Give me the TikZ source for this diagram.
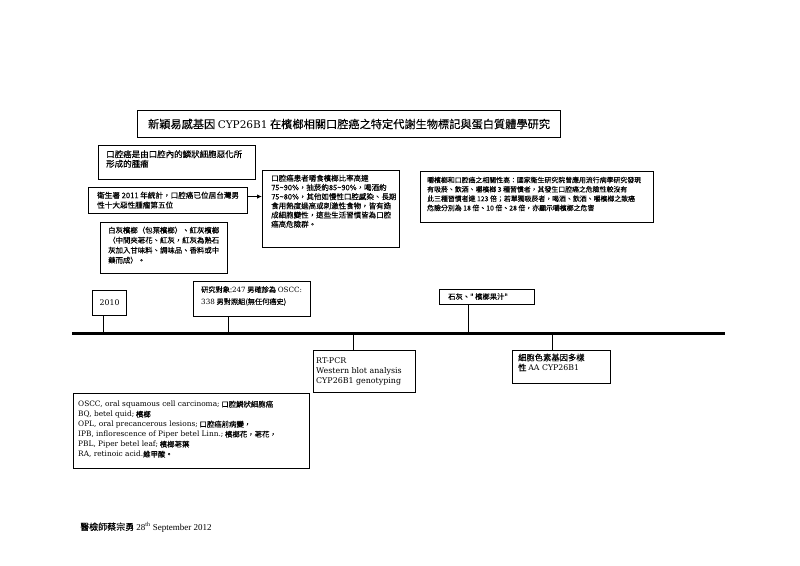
\documentclass[tikz,border=0pt]{standalone}
\usepackage{fontspec}
\setmainfont{Liberation Serif}
\newfontfamily\cjk[FakeBold=0.12]{Noto Sans CJK TC}
\newfontfamily\lat{DejaVu Serif}
\usetikzlibrary{arrows.meta}
\begin{document}
\begin{tikzpicture}[x=1pt,y=-1pt,
  frame/.style={draw, line width=1.1pt, anchor=north west, inner sep=0pt},
  txt/.style={anchor=north west, inner sep=0pt, align=left},
  conn/.style={draw, line width=1.1pt}]
\useasboundingbox (0,0) rectangle (800,565);
% title
\node[frame, minimum width=423pt, minimum height=27pt, font=\cjk\fontsize{11.2}{13}\selectfont] (title) at (137,110) {新穎易感基因 {\lat\fontsize{10.5}{13}\selectfont CYP26B1} 在檳榔相關口腔癌之特定代謝生物標記與蛋白質體學研究};
% box 1
\node[frame, minimum width=157pt, minimum height=34pt] (f1) at (98,145) {};
\node[txt, font=\cjk\fontsize{8.5}{9.6}\selectfont] (t1) at (106,150) {口腔癌是由口腔內的鱗狀細胞惡化所\\形成的腫瘤};
% box 2
\node[frame, minimum width=159pt, minimum height=26pt] (f2) at (88,187) {};
\node[txt, font=\cjk\fontsize{7.6}{9.8}\selectfont] (t2) at (97,191.5) {衛生署 2011 年統計，口腔癌已位居台灣男\\性十大惡性腫瘤第五位};
% box 3
\node[frame, minimum width=127pt, minimum height=51pt] (f3) at (100,222) {};
\node[txt, font=\cjk\fontsize{7.4}{10}\selectfont] (t3) at (108,226.5) {白灰檳榔（包葉檳榔）、紅灰檳榔\\（中間夾荖花、紅灰，紅灰為熟石\\灰加入甘味料、調味品、香料或中\\藥而成）。};
% box 4
\node[frame, minimum width=137pt, minimum height=77pt] (f4) at (262,170) {};
\node[txt, font=\cjk\fontsize{7.5}{9.2}\selectfont] (t4) at (271,174.5) {口腔癌患者嚼食檳榔比率高達\\75\char`\~90\%，抽菸約85\char`\~90\%，喝酒約\\75\char`\~80\%，其他如慢性口腔感染、長期\\食用熱度過高或刺激性食物，皆有造\\成細胞變性，這些生活習慣皆為口腔\\癌高危險群。};
% box 5
\node[frame, minimum width=233pt, minimum height=51pt] (f5) at (420,171) {};
\node[txt, font=\cjk\fontsize{6.9}{9.3}\selectfont] (t5) at (427,176.5) {嚼檳榔和口腔癌之相關性高：國家衛生研究院曾應用流行病學研究發現\\有吸菸、飲酒、嚼檳榔 3 種習慣者，其發生口腔癌之危險性較沒有\\此三種習慣者達 123 倍；若單獨吸菸者，喝酒、飲酒、嚼檳榔之致癌\\危險分別為 18 倍、10 倍、28 倍，亦顯示嚼檳榔之危害};
% arrow
\draw[conn, -{Latex[length=5pt,width=4.5pt]}] ([yshift=4pt]f2.east) -- ([yshift=4pt]f2.east -| f4.west);
% timeline
\coordinate (tlL) at (72,333);
\coordinate (tlR) at (725,333);
\draw[line width=3pt] (tlL) -- (tlR);
% above timeline
\node[frame, minimum width=34pt, minimum height=25pt, font=\lat\fontsize{7.8}{9}\selectfont] (f2010) at (92,290) {2010};
\draw[conn] ([xshift=-6pt]f2010.south) -- ([xshift=-6pt]f2010.south |- tlL);
\node[frame, minimum width=117pt, minimum height=35pt] (fres) at (193,281) {};
\node[txt, font=\cjk\fontsize{7.2}{12}\selectfont] (tres) at (201,286) {研究對象:{\lat 247} 男確診為 {\lat OSCC:}\\{\lat 338} 男對照組(無任何癌史)};
\draw[conn] ([xshift=-23.5pt]fres.south) -- ([xshift=-23.5pt]fres.south |- tlL);
\node[frame, minimum width=95pt, minimum height=15pt] (flime) at (439,289) {};
\node[txt, font=\cjk\fontsize{7.3}{9}\selectfont] (tlime) at (448,293) {石灰、" 檳榔果汁"};
\draw[conn] ([xshift=-18.5pt]flime.south) -- ([xshift=-18.5pt]flime.south |- tlL);
% below timeline
\node[frame, minimum width=102pt, minimum height=42pt] (frt) at (313,350) {};
\node[txt, font=\lat\fontsize{7.9}{10}\selectfont] (trt) at (316,357) {RT-PCR\\Western blot analysis\\CYP26B1 genotyping};
\draw[conn] ([xshift=-11pt]frt.north |- tlL) -- ([xshift=-11pt]frt.north);
\node[frame, minimum width=98pt, minimum height=33pt] (fcyp) at (512,350) {};
\node[txt, font=\cjk\fontsize{8.3}{10}\selectfont] (tcyp) at (518,353.5) {細胞色素基因多樣\\性 {\lat\fontsize{7.8}{10}\selectfont AA CYP26B1}};
\draw[conn] ([xshift=-9pt]fcyp.north |- tlL) -- ([xshift=-9pt]fcyp.north);
% legend
\node[frame, minimum width=236pt, minimum height=75pt] (fleg) at (73,393) {};
\node[txt, font=\cjk\fontsize{7.4}{10}\selectfont] (tleg) at (78,400.5) {{\lat OSCC, oral squamous cell carcinoma;} 口腔鱗狀細胞癌\\{\lat BQ, betel quid;} 檳榔\\{\lat OPL, oral precancerous lesions;} 口腔癌前病變，\\{\lat IPB, inflorescence of Piper betel Linn.;} 檳榔花，荖花，\\{\lat PBL, Piper betel leaf;} 檳榔荖葉\\{\lat RA, retinoic acid.}維甲酸。};
% footer
\node[txt, font=\fontsize{9}{11}\selectfont] (foot) at (80,522) {{\cjk 醫檢師蔡宗勇} 28\textsuperscript{th} September 2012};
\end{tikzpicture}
\end{document}
